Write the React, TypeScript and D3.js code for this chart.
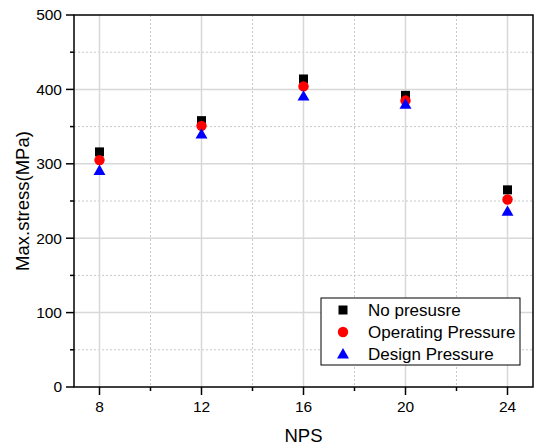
import React from "react";
import * as d3 from "d3";

const nps = [8, 12, 16, 20, 24];
const noPressure = [316, 358, 414, 392, 265];
const operatingPressure = [305, 351, 404, 385, 252];
const designPressure = [291, 340, 391, 380, 236];
const xTicks = [8, 12, 16, 20, 24];
const xMinor = [10, 14, 18, 22];
const yTicks = [0, 100, 200, 300, 400, 500];
const yMinor = [50, 150, 250, 350, 450];
const seriesNames = ["No presusre", "Operating Pressure", "Design Pressure"];

const W = 536, H = 445;
const L = 74, R = 533, T = 15, B = 387;

export default function App() {
  const x = d3.scaleLinear().domain([7, 25]).range([L, R]);
  const y = d3.scaleLinear().domain([0, 500]).range([B, T]);
  const font = "'Liberation Sans', Arial, sans-serif";
  const tri = d3.symbol().type(d3.symbolTriangle).size(62)() as string;

  const marker = (k: number, cx: number, cy: number, key: string) => {
    if (k === 0) return <rect key={key} x={cx - 4.5} y={cy - 4.5} width={9} height={9} fill="#000" />;
    if (k === 1) return <circle key={key} cx={cx} cy={cy} r={5.2} fill="#ff0000" />;
    return <path key={key} d={tri} transform={`translate(${cx},${cy + 1})`} fill="#0000ff" />;
  };
  const series = [noPressure, operatingPressure, designPressure];

  return (
    <svg width={W} height={H} style={{ position: "absolute", left: 0, top: 0, background: "#fff" }} fontFamily={font}>
      {/* grid */}
      {yMinor.map((v) => (
        <line key={"ym" + v} x1={L} x2={R} y1={y(v)} y2={y(v)} stroke="#c8c8c8" strokeWidth={1} strokeDasharray="2,2" />
      ))}
      {xMinor.map((v) => (
        <line key={"xm" + v} x1={x(v)} x2={x(v)} y1={T} y2={B} stroke="#c8c8c8" strokeWidth={1} strokeDasharray="2,2" />
      ))}
      {yTicks.filter((v) => v > 0 && v < 500).map((v) => (
        <line key={"yg" + v} x1={L} x2={R} y1={y(v)} y2={y(v)} stroke="#d8d8d8" strokeWidth={1.5} />
      ))}
      {xTicks.map((v) => (
        <line key={"xg" + v} x1={x(v)} x2={x(v)} y1={T} y2={B} stroke="#d8d8d8" strokeWidth={1.5} />
      ))}
      {/* frame */}
      <rect x={L} y={T} width={R - L} height={B - T} fill="none" stroke="#000" strokeWidth={1.5} />
      {/* y ticks */}
      {yTicks.map((v) => (
        <g key={"yt" + v}>
          <line x1={L - 8} x2={L} y1={y(v)} y2={y(v)} stroke="#000" strokeWidth={1.5} />
          <text x={L - 12} y={y(v)} dy="0.35em" textAnchor="end" fontSize={15.5} fill="#000">{v}</text>
        </g>
      ))}
      {yMinor.map((v) => (
        <line key={"ymt" + v} x1={L - 4} x2={L} y1={y(v)} y2={y(v)} stroke="#000" strokeWidth={1.5} />
      ))}
      {/* x ticks */}
      {xTicks.map((v) => (
        <g key={"xt" + v}>
          <line x1={x(v)} x2={x(v)} y1={B} y2={B + 8} stroke="#000" strokeWidth={1.5} />
          <text x={x(v)} y={B + 20} dy="0.35em" textAnchor="middle" fontSize={15.5} fill="#000">{v}</text>
        </g>
      ))}
      {xMinor.map((v) => (
        <line key={"xmt" + v} x1={x(v)} x2={x(v)} y1={B} y2={B + 4} stroke="#000" strokeWidth={1.5} />
      ))}
      {/* axis titles */}
      <text x={(L + R) / 2} y={435.5} dy="0.35em" textAnchor="middle" fontSize={18.5} fill="#000">NPS</text>
      <text transform={`translate(23,${(T + B) / 2}) rotate(-90)`} dy="0.35em" textAnchor="middle" fontSize={18.5} fill="#000">Max.stress(MPa)</text>
      {/* data */}
      {series.map((s, k) => s.map((v, i) => marker(k, x(nps[i]), y(v), `m${k}-${i}`)))}
      {/* legend */}
      <rect x={321} y={298} width={199} height={67} fill="#fff" stroke="#000" strokeWidth={1} />
      {seriesNames.map((n, k) => (
        <g key={"lg" + k}>
          {marker(k, 343, 310 + k * 22, "lm" + k)}
          <text x={368} y={310 + k * 22} dy="0.35em" fontSize={17} fill="#000">{n}</text>
        </g>
      ))}
    </svg>
  );
}
